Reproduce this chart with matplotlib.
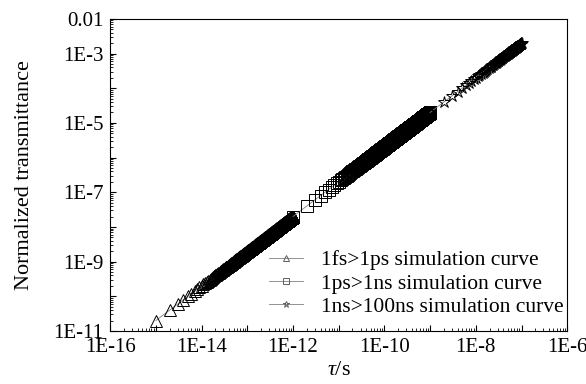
import numpy as np
import matplotlib
matplotlib.use('Agg')
import matplotlib.pyplot as plt
from matplotlib.ticker import LogLocator, FuncFormatter, NullFormatter

plt.rcParams['font.family'] = 'Liberation Serif'
plt.rcParams['mathtext.fontset'] = 'custom'
plt.rcParams['mathtext.it'] = 'Liberation Serif:italic'
plt.rcParams['mathtext.rm'] = 'Liberation Serif'

# simulation time grids (step = start of the range, as in the legend)
t_fs = np.arange(1, 1001) * 1e-15    # 1 fs -> 1 ps
t_ps = np.arange(1, 1001) * 1e-12    # 1 ps -> 1 ns
t_ns = np.arange(1, 101) * 1e-9      # 1 ns -> 100 ns

trans_per_second = 2.0e4

labels = ['1fs>1ps simulation curve', '1ps>1ns simulation curve', '1ns>100ns simulation curve']
markers = ['^', 's', '*']
series = [t_fs, t_ps, t_ns]

fig = plt.figure(figsize=(5.86, 3.84), dpi=100)
ax = fig.add_axes([0.188, 0.138, 0.780, 0.813])

for t, m, lab in zip(series, markers, labels):
    y = trans_per_second * t
    ms = 9 if m == '*' else 8
    ax.plot(t, y, color='#808080', lw=0.6, marker=m, ms=ms, mfc='none',
            mec='black', mew=0.7, label=lab)

ax.set_xscale('log')
ax.set_yscale('log')
ax.set_xlim(1e-16, 1e-6)
ax.set_ylim(1e-11, 1e-2)

def fmt(v, pos):
    e = int(round(np.log10(v)))
    if e == -2:
        return '0.01'
    return '1E%d' % e

ax.xaxis.set_major_locator(LogLocator(base=10, numticks=20))
ax.yaxis.set_major_locator(LogLocator(base=10, numticks=20))
ax.xaxis.set_major_formatter(FuncFormatter(lambda v, p: fmt(v, p) if int(round(np.log10(v))) % 2 == 0 else ''))
ax.yaxis.set_major_formatter(FuncFormatter(lambda v, p: fmt(v, p) if int(round(np.log10(v))) % 2 != 0 or int(round(np.log10(v))) == -2 else ''))
ax.xaxis.set_minor_locator(LogLocator(base=10, subs=np.arange(2, 10), numticks=20))
ax.yaxis.set_minor_locator(LogLocator(base=10, subs=np.arange(2, 10), numticks=20))
ax.xaxis.set_minor_formatter(NullFormatter())
ax.yaxis.set_minor_formatter(NullFormatter())
ax.tick_params(which='major', direction='in', length=4, width=0.8, labelsize=15, pad=5)
ax.tick_params(which='minor', direction='in', length=2, width=0.6)
for s in ax.spines.values():
    s.set_linewidth(0.8)

ax.set_xlabel(r'$\it{\tau}$/s', fontsize=16, labelpad=3)
ax.set_ylabel('Normalized transmittance', fontsize=16, labelpad=14)

leg = ax.legend(loc='lower right', bbox_to_anchor=(1.022, 0.0), frameon=False,
                fontsize=15.5, markerscale=0.5, handlelength=1.6, handletextpad=0.8,
                labelspacing=0.15, borderaxespad=0.45, borderpad=0.2)
for h in leg.legend_handles:
    h.set_color('#808080')
    h.set_markeredgecolor('#606060')

fig.savefig('out.png', dpi=100)
